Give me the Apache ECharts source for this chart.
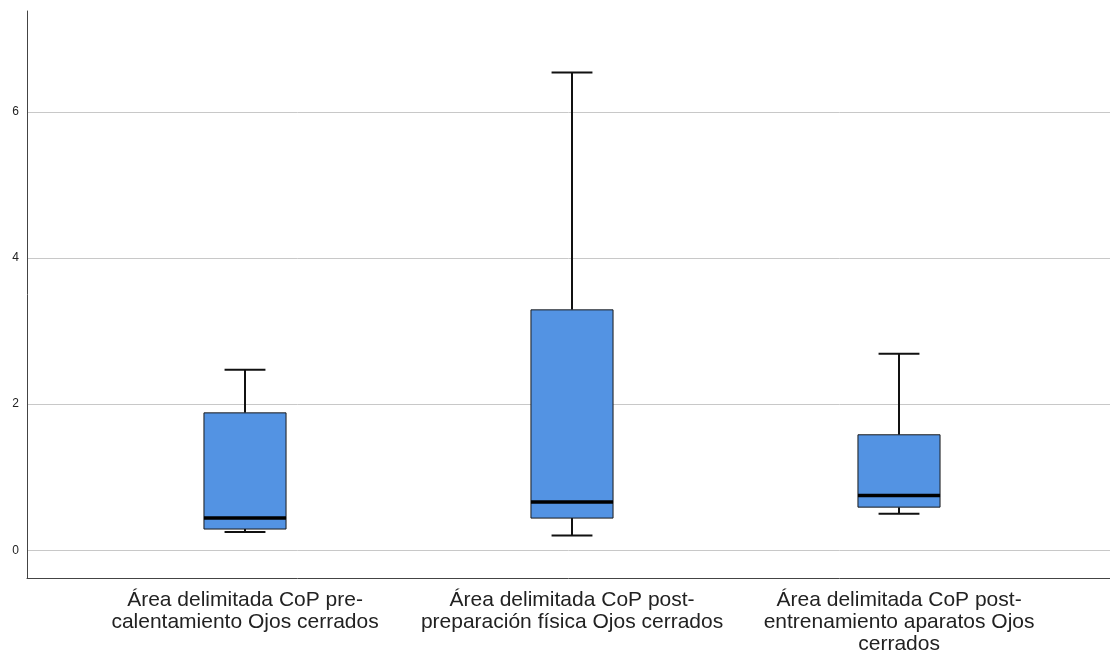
<!DOCTYPE html>
<html>
<head>
<meta charset="utf-8">
<script src="https://cdn.jsdelivr.net/npm/echarts@6/dist/echarts.min.js"></script>
<style>
html,body{margin:0;padding:0;background:#fff;}
#chart{width:1110px;height:655px;}
</style>
</head>
<body>
<div id="chart"></div>
<script>
const categories = [
  'Área delimitada CoP pre-\ncalentamiento Ojos cerrados',
  'Área delimitada CoP post-\npreparación física Ojos cerrados',
  'Área delimitada CoP post-\nentrenamiento aparatos Ojos\ncerrados'
];
const whiskerLow  = [0.25, 0.20, 0.50];
const q1          = [0.29, 0.44, 0.59];
const median      = [0.44, 0.66, 0.75];
const q3          = [1.88, 3.29, 1.58];
const whiskerHigh = [2.47, 6.54, 2.69];
const yTicks = [0, 2, 4, 6];
const xTicks = [0, 1, 2];

const boxData = categories.map((c, i) => [i, whiskerLow[i], q1[i], median[i], q3[i], whiskerHigh[i]]);

const chart = echarts.init(document.getElementById('chart'), null, {renderer: 'canvas'});

function renderBox(params, api) {
  const x = api.value(0);
  const unit = api.size([1, 0])[0];
  const boxW = unit * 0.251;
  const capW = unit * 0.125;
  const pLow = api.coord([x, api.value(1)]);
  const pQ1 = api.coord([x, api.value(2)]);
  const pMed = api.coord([x, api.value(3)]);
  const pQ3 = api.coord([x, api.value(4)]);
  const pHigh = api.coord([x, api.value(5)]);
  const cx = Math.round(pMed[0]);
  const wStyle = {stroke: '#111', lineWidth: 2};
  return {
    type: 'group',
    children: [
      {type: 'line', shape: {x1: cx, y1: pQ3[1], x2: cx, y2: pHigh[1]}, style: wStyle},
      {type: 'line', shape: {x1: cx - capW / 2, y1: pHigh[1], x2: cx + capW / 2, y2: pHigh[1]}, style: wStyle},
      {type: 'line', shape: {x1: cx, y1: pQ1[1], x2: cx, y2: pLow[1]}, style: wStyle},
      {type: 'line', shape: {x1: cx - capW / 2, y1: pLow[1], x2: cx + capW / 2, y2: pLow[1]}, style: wStyle},
      {type: 'rect', shape: {x: cx - boxW / 2, y: pQ3[1], width: boxW, height: pQ1[1] - pQ3[1]},
        style: {fill: '#5393e3', stroke: '#1a1a1a', lineWidth: 1}},
      {type: 'line', shape: {x1: cx - boxW / 2, y1: pMed[1], x2: cx + boxW / 2, y2: pMed[1]},
        style: {stroke: '#000', lineWidth: 3.5}}
    ]
  };
}

chart.setOption({
  animation: false,
  backgroundColor: '#ffffff',
  grid: {left: 27, right: 0, top: 11, bottom: 75, containLabel: false},
  xAxis: {
    type: 'value',
    min: -0.6667,
    max: 2.645,
    axisLine: {show: true, onZero: false, lineStyle: {color: '#444', width: 1}},
    axisTick: {show: false, customValues: xTicks},
    splitLine: {show: false},
    axisLabel: {
      customValues: xTicks,
      formatter: v => categories[v],
      margin: 11,
      fontFamily: 'Liberation Sans, Arial, sans-serif',
      fontSize: 21,
      lineHeight: 22,
      color: '#222',
      align: 'center'
    }
  },
  yAxis: {
    type: 'value',
    min: -0.38,
    max: 7.38,
    axisLine: {show: true, onZero: false, lineStyle: {color: '#444', width: 1}},
    axisTick: {show: false, customValues: yTicks},
    axisLabel: {
      customValues: yTicks,
      fontFamily: 'Liberation Sans, Arial, sans-serif',
      fontSize: 12,
      color: '#222',
      margin: 8
    },
    splitLine: {show: true, lineStyle: {color: '#c8c8c8', width: 1}}
  },
  series: [{
    type: 'custom',
    renderItem: renderBox,
    encode: {x: 0, y: [1, 2, 3, 4, 5]},
    data: boxData,
    silent: true
  }]
});
</script>
</body>
</html>
